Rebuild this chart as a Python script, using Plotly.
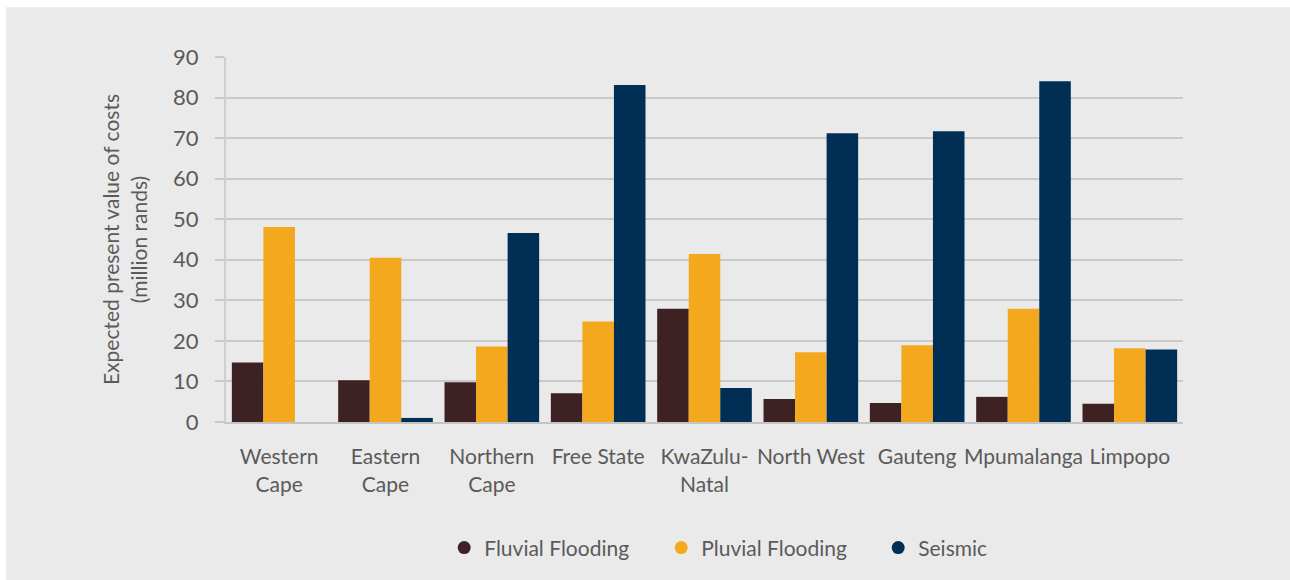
import plotly.graph_objects as go

# Provinces and expected present value of costs (million rands) by hazard
provinces = ["Western<br>Cape", "Eastern<br>Cape", "Northern<br>Cape", "Free State",
             "KwaZulu-<br>Natal", "North West", "Gauteng", "Mpumalanga", "Limpopo"]
fluvial = [14.7, 10.3, 9.8, 7.1, 27.9, 5.7, 4.7, 6.2, 4.5]
pluvial = [48.1, 40.5, 18.6, 24.8, 41.4, 17.2, 18.9, 27.9, 18.2]
seismic = [0.0, 1.0, 46.6, 83.1, 8.4, 71.2, 71.7, 84.0, 17.9]
y_ticks = [0, 10, 20, 30, 40, 50, 60, 70, 80, 90]

series = [
    ("Fluvial Flooding", fluvial, "#3E2123"),
    ("Pluvial Flooding", pluvial, "#F4A81E"),
    ("Seismic", seismic, "#002E55"),
]

FONT = "Lato"
TEXT = "#5A5A5A"
BG = "#EAEAEA"

fig = go.Figure()
for name, vals, col in series:
    fig.add_trace(go.Bar(x=provinces, y=vals, name=name, marker_color=col,
                         marker_line_width=0, showlegend=False))
# round legend markers
for name, vals, col in series:
    fig.add_trace(go.Scatter(x=[None], y=[None], mode="markers", name=name,
                             marker=dict(symbol="circle", size=13, color=col)))

fig.update_layout(
    width=1290, height=580,
    margin=dict(l=226, r=107, t=57, b=156),
    paper_bgcolor=BG, plot_bgcolor=BG,
    barmode="group", bargap=0.11, bargroupgap=0,
    font=dict(family=FONT, color=TEXT, size=21),
    legend=dict(orientation="h", x=0.228, xanchor="left", y=-0.345, yanchor="middle",
                font=dict(family=FONT, size=21, color=TEXT),
                entrywidth=172, entrywidthmode="pixels", itemwidth=30,
                bgcolor="rgba(0,0,0,0)"),
    xaxis=dict(
        type="category", range=[-0.5, 8.5],
        showgrid=False, showline=True, linecolor="#C4C4C4", linewidth=2,
        ticks="", tickfont=dict(family=FONT, size=21, color=TEXT),
        ticklabelstandoff=15, layer="above traces",
    ),
    yaxis=dict(
        range=[0, 90], tickvals=y_ticks, showgrid=True,
        gridcolor="#C9C9C9", gridwidth=1.5,
        zeroline=False, showline=True, linecolor="#D0D0D0", linewidth=2,
        ticks="outside", ticklen=9, tickcolor="#C9C9C9", tickwidth=1.5,
        ticklabelstandoff=12,
        tickfont=dict(family=FONT, size=22, color=TEXT),
        title=dict(text="Expected present value of costs<br>(million rands)",
                   font=dict(family=FONT, size=21, color=TEXT), standoff=20),
    ),
    shapes=[
        # white frame strips along the top and left edges
        dict(type="rect", xref="paper", yref="paper", x0=-226 / 957, x1=1064 / 957,
             y0=(424 - 7) / 367, y1=(424 + 10) / 367, fillcolor="white",
             line_width=0, layer="above"),
        dict(type="rect", xref="paper", yref="paper", x0=-240 / 957, x1=-220 / 957,
             y0=(424 - 590) / 367, y1=(424 + 10) / 367, fillcolor="white",
             line_width=0, layer="above"),
    ],
)

fig.write_html("out.html")
